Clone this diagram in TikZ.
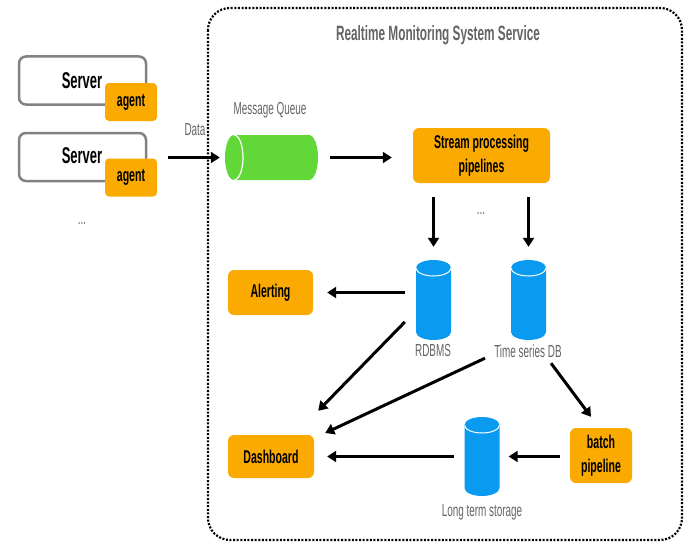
\documentclass[tikz,border=0pt]{standalone}
\usepackage{fontspec}
\setmainfont{Liberation Sans}[FakeStretch=0.57]
\usetikzlibrary{arrows.meta}
\definecolor{orng}{RGB}{250,170,0}
\definecolor{dbblue}{RGB}{10,155,240}
\definecolor{mqgreen}{RGB}{98,216,56}
\definecolor{lblgray}{RGB}{100,100,100}
\definecolor{srvgray}{RGB}{130,130,130}
\tikzset{
  arr/.style={line width=3pt, -{Triangle[length=9pt,width=11pt]}},
  obox/.style={fill=orng, rounded corners=6pt, inner sep=0pt, align=center,
    font=\fontsize{18.5}{24}\selectfont\bfseries},
  srv/.style={draw=srvgray, line width=2.5pt, fill=white, rounded corners=7pt,
    minimum width=127pt, minimum height=48pt, inner sep=0pt},
  agentbox/.style={fill=orng, rounded corners=4pt, minimum width=52pt, minimum height=38pt,
    inner sep=0pt, font=\fontsize{18.5}{20}\selectfont\bfseries},
  lbl/.style={text=lblgray, inner sep=0pt, font=\fontsize{17.4}{19}\selectfont},
  vcyl/.style={minimum width=35pt, minimum height=80pt, inner sep=0pt,
    path picture={
      \fill[dbblue] ([yshift=-8pt]path picture bounding box.north west)
        -- ([yshift=8pt]path picture bounding box.south west)
        arc[start angle=180, end angle=360, x radius=17.5pt, y radius=8pt]
        -- ([yshift=-8pt]path picture bounding box.north east)
        arc[start angle=0, end angle=180, x radius=17.5pt, y radius=8pt] -- cycle;
      \draw[white, line width=1pt] ([yshift=-8pt]path picture bounding box.north west)
        arc[start angle=180, end angle=360, x radius=17.5pt, y radius=8pt];
    }},
  hcyl/.style={minimum width=93pt, minimum height=45pt, inner sep=0pt,
    path picture={
      \fill[mqgreen] ([xshift=9pt]path picture bounding box.north west)
        -- ([xshift=-9pt]path picture bounding box.north east)
        arc[start angle=90, end angle=-90, x radius=9pt, y radius=22.5pt]
        -- ([xshift=9pt]path picture bounding box.south west)
        arc[start angle=270, end angle=90, x radius=9pt, y radius=22.5pt] -- cycle;
      \draw[white, line width=1.2pt] ([xshift=9pt]path picture bounding box.north west)
        arc[start angle=90, end angle=-90, x radius=9pt, y radius=22.5pt];
    }},
}
\begin{document}
\begin{tikzpicture}[x=1pt, y=-1pt]
\useasboundingbox (0,0) rectangle (688,543);
% frame
\draw[line width=2.2pt, dash pattern=on 2pt off 1.6pt, rounded corners=22pt]
  (208,8) rectangle (682,540);
\node[font=\fontsize{20.7}{24}\selectfont\bfseries, text=lblgray] (title) at (438,35)
  {Realtime Monitoring System Service};
% servers
\node[srv] (s1) at (82.5,80.5) {};
\node[font=\fontsize{22.8}{26}\selectfont\bfseries] (s1t) at (82,81) {Server};
\node[agentbox] (a1) at (131,102) {agent};
\node[srv] (s2) at (82.5,157) {};
\node[font=\fontsize{22.8}{26}\selectfont\bfseries] (s2t) at (82,156) {Server};
\node[agentbox] (a2) at (131,177.5) {agent};
\node[lbl] (dots1) at (82,224) {...};
\node[lbl] (data) at (195,130) {Data};
% message queue
\node[lbl] (mql) at (270,110) {Message Queue};
\node[hcyl] (mq) at (271.5,157.5) {};
\node[obox, minimum width=137pt, minimum height=55pt] (stream) at (481.5,155.5)
  {Stream processing\\pipelines};
\node[lbl] (dots2) at (481,214) {...};
% databases
\node[vcyl] (rdb) at (433.5,300) {};
\node[lbl] (rdbl) at (433,351) {RDBMS};
\node[vcyl] (ts) at (528.5,300) {};
\node[lbl] (tsl) at (528,351) {Time series DB};
\node[vcyl, minimum height=79pt] (lts) at (482,456.5) {};
\node[lbl] (ltsl) at (482,512) {Long term storage};
% orange boxes
\node[obox, minimum width=85pt, minimum height=45pt] (alert) at (270.5,292.5) {Alerting};
\node[obox, minimum width=86pt, minimum height=43pt] (dash) at (271,456.5) {Dashboard};
\node[obox, minimum width=62pt, minimum height=55pt] (batch) at (601,455.5) {batch\\pipeline};
% arrows
\draw[arr] ([xshift=21pt]s2.east |- mq.west) -- ([xshift=-5pt]mq.west);
\draw[arr] ([xshift=12pt]mq.east) -- ([xshift=-21pt]stream.west |- mq.east);
\draw[arr] ([yshift=-14pt]stream.south -| rdb.north) -- ([yshift=13pt]rdb.north);
\draw[arr] ([yshift=-14pt]stream.south -| ts.north) -- ([yshift=13pt]ts.north);
\draw[arr] ([xshift=-11pt]rdb.west |- alert.east) -- ([xshift=14pt]alert.east);
\draw[arr] ([xshift=-11pt,yshift=-22pt]rdb.west) -- ([xshift=4pt,yshift=24pt]dash.north east);
\draw[arr] ([xshift=-43.5pt,yshift=-18pt]ts.south) -- ([xshift=11pt,yshift=23.5pt]dash.east);
\draw[arr] ([xshift=22.5pt,yshift=-23pt]ts.south) -- ([xshift=-10pt,yshift=11pt]batch.north);
\draw[arr] ([xshift=-10pt]batch.west |- lts.east) -- ([xshift=9pt]lts.east);
\draw[arr] ([xshift=-10pt]lts.west) -- ([xshift=13pt]dash.east);
\end{tikzpicture}
\end{document}
